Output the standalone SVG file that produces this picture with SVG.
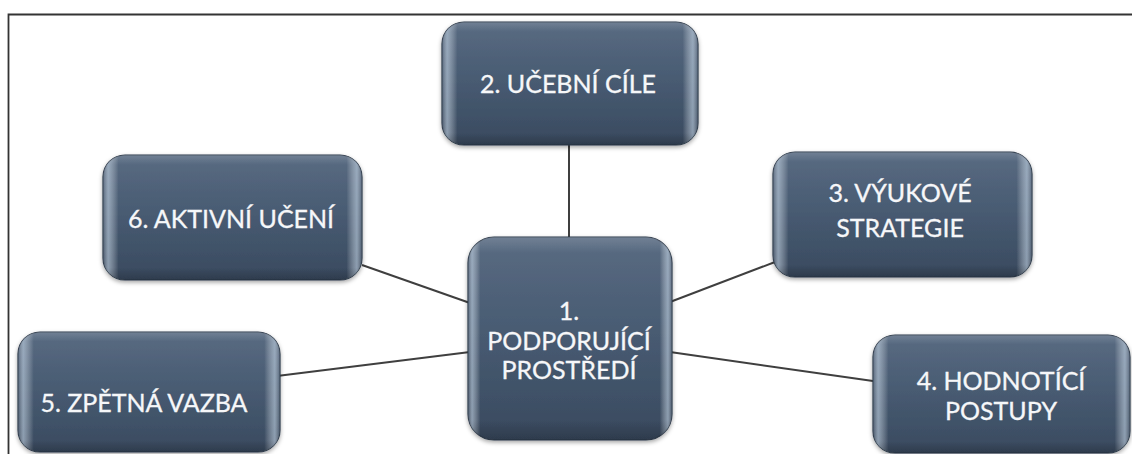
<svg xmlns="http://www.w3.org/2000/svg" width="1132" height="454" viewBox="0 0 1132 454">
<defs>
<linearGradient id="fillV" x1="0" y1="0" x2="0" y2="1">
<stop offset="0" stop-color="#596b82"/>
<stop offset="0.5" stop-color="#475a71"/>
<stop offset="1" stop-color="#394a5f"/>
</linearGradient>
<linearGradient id="edgeH" x1="0" y1="0" x2="1" y2="0">
<stop offset="0" stop-color="#ffffff" stop-opacity="0.05"/>
<stop offset="0.02" stop-color="#cfe0f0" stop-opacity="0.55"/>
<stop offset="0.06" stop-color="#ffffff" stop-opacity="0"/>
<stop offset="0.94" stop-color="#ffffff" stop-opacity="0"/>
<stop offset="0.98" stop-color="#cfe0f0" stop-opacity="0.55"/>
<stop offset="1" stop-color="#ffffff" stop-opacity="0.05"/>
</linearGradient>
<linearGradient id="edgeV" x1="0" y1="0" x2="0" y2="1">
<stop offset="0" stop-color="#ffffff" stop-opacity="0.15"/>
<stop offset="0.08" stop-color="#ffffff" stop-opacity="0"/>
<stop offset="0.9" stop-color="#000000" stop-opacity="0"/>
<stop offset="1" stop-color="#000000" stop-opacity="0.2"/>
</linearGradient>
<filter id="sh" x="-10%" y="-10%" width="120%" height="125%">
<feDropShadow dx="0" dy="2" stdDeviation="2" flood-color="#000" flood-opacity="0.35"/>
</filter>
</defs>
<style>
.box{fill:url(#fillV);stroke:#2e3b4b;stroke-width:1.2;filter:url(#sh)}
.hl{fill:url(#edgeH);stroke:none}
.vl{fill:url(#edgeV);stroke:none}
.t{font-family:Lato,"Open Sans","Liberation Sans",sans-serif;font-size:25px;fill:#f6f7f9;text-anchor:middle;stroke:#f6f7f9;stroke-width:0.3}
.c{stroke:#3f3f3f;stroke-width:2;fill:none}
.frame{stroke:#333;stroke-width:1.8;fill:none}
</style>
<rect width="1132" height="454" fill="#ffffff"/>
<path class="frame" d="M8.5 454 V14.5 H1132"/>
<g id="connectors">
<line class="c" x1="569" y1="145" x2="569" y2="237"/>
<line class="c" x1="362" y1="265" x2="470" y2="303"/>
<line class="c" x1="277" y1="376" x2="470" y2="352"/>
<line class="c" x1="775" y1="262" x2="670" y2="302"/>
<line class="c" x1="670" y1="352" x2="873" y2="381"/>
</g>
<g id="node2">
<rect class="box" x="442" y="22" width="256" height="123" rx="22"/>
<rect class="hl" x="442" y="22" width="256" height="123" rx="22"/>
<rect class="vl" x="442" y="22" width="256" height="123" rx="22"/>
<text class="t" x="568" y="93">2. UČEBNÍ CÍLE</text>
</g>
<g id="node1">
<rect class="box" x="468" y="237" width="204" height="203" rx="26"/>
<rect class="hl" x="468" y="237" width="204" height="203" rx="26"/>
<rect class="vl" x="468" y="237" width="204" height="203" rx="26"/>
<text class="t" x="569" y="320">1.</text>
<text class="t" x="569" y="350">PODPORUJÍCÍ</text>
<text class="t" x="569" y="379">PROSTŘEDÍ</text>
</g>
<g id="node3">
<rect class="box" x="773" y="152" width="259" height="125" rx="22"/>
<rect class="hl" x="773" y="152" width="259" height="125" rx="22"/>
<rect class="vl" x="773" y="152" width="259" height="125" rx="22"/>
<text class="t" x="900" y="202">3. VÝUKOVÉ</text>
<text class="t" x="900" y="237">STRATEGIE</text>
</g>
<g id="node6">
<rect class="box" x="103" y="155" width="259" height="125" rx="22"/>
<rect class="hl" x="103" y="155" width="259" height="125" rx="22"/>
<rect class="vl" x="103" y="155" width="259" height="125" rx="22"/>
<text class="t" x="231" y="228">6. AKTIVNÍ UČENÍ</text>
</g>
<g id="node5">
<rect class="box" x="18" y="332" width="262" height="120" rx="22"/>
<rect class="hl" x="18" y="332" width="262" height="120" rx="22"/>
<rect class="vl" x="18" y="332" width="262" height="120" rx="22"/>
<text class="t" x="144" y="412">5. ZPĚTNÁ VAZBA</text>
</g>
<g id="node4">
<rect class="box" x="873" y="335" width="257" height="118" rx="22"/>
<rect class="hl" x="873" y="335" width="257" height="118" rx="22"/>
<rect class="vl" x="873" y="335" width="257" height="118" rx="22"/>
<text class="t" x="1001" y="390">4. HODNOTÍCÍ</text>
<text class="t" x="1001" y="420">POSTUPY</text>
</g>
</svg>
